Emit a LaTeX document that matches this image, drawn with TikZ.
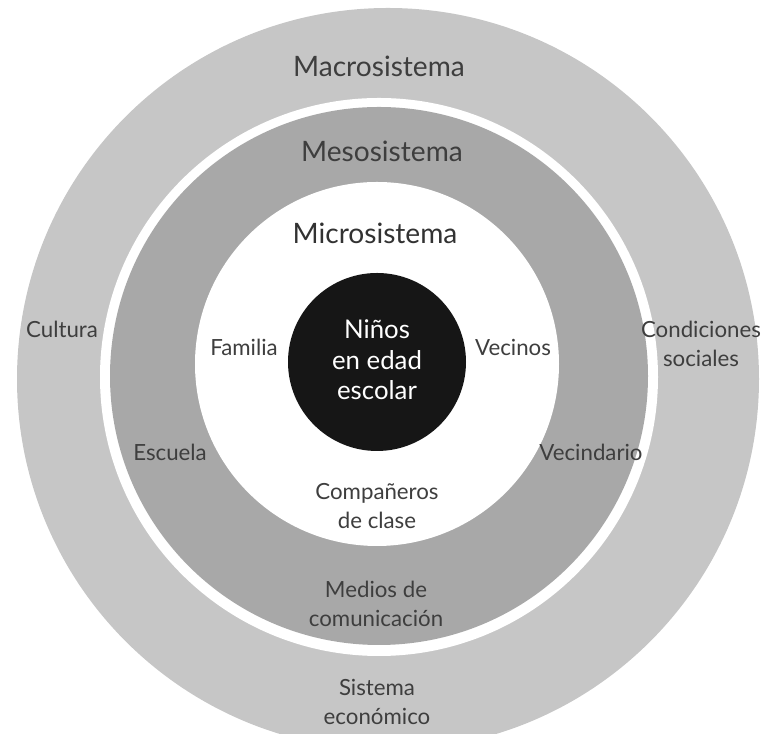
\documentclass[tikz,border=0pt]{standalone}
\usepackage{fontspec}
\setmainfont{Lato}
\definecolor{macrogray}{RGB}{198,198,198}
\definecolor{mesogray}{RGB}{168,168,168}
\definecolor{coreblack}{RGB}{22,22,22}
\definecolor{labelgray}{RGB}{62,62,62}
\usetikzlibrary{positioning}

\begin{document}
\begin{tikzpicture}[x=0.3mm,y=0.3mm,
    title/.style={font=\fontsize{24}{28}\selectfont, text=labelgray, inner sep=0pt},
    ringlabel/.style={font=\fontsize{19}{24.5}\selectfont, text=labelgray, align=center, inner sep=0pt}]
  \useasboundingbox (0,0) rectangle (766,734);
  \clip (0,0) rectangle (766,734);
  % rings, outermost first
  \fill[macrogray] (388,355) circle (371);
  \fill[white] (379,357) circle (279);
  \fill[mesogray] (379,358) circle (269);
  \fill[white] (377,370) circle (182);
  \fill[coreblack] (377,372) circle (89);
  % system names
  \node[title] (macro) at (379,668) {Macrosistema};
  \node[title] (meso) at (382,583) {Mesosistema};
  \node[title, text=labelgray!80!black] (micro) at (375,501) {Microsistema};
  \node[ringlabel, font=\fontsize{22}{26}\selectfont, text=white] (nino) at (377,374)
    {Niños\\en edad\\escolar};
  % microsystem
  \node[ringlabel] (familia) at (244,387) {Familia};
  \node[ringlabel] (vecinos) at (513,387) {Vecinos};
  \node[ringlabel] (companeros) at (377,228) {Compañeros\\de clase};
  % mesosystem
  \node[ringlabel] (escuela) at (170,282) {Escuela};
  \node[ringlabel] (vecindario) at (591,282) {Vecindario};
  \node[ringlabel] (medios) at (376,130) {Medios de\\comunicación};
  % macrosystem
  \node[ringlabel] (cultura) at (62,405) {Cultura};
  \node[ringlabel] (condiciones) at (701,390) {Condiciones\\sociales};
  \node[ringlabel] (sistema) at (377,32) {Sistema\\económico};
\end{tikzpicture}
\end{document}
